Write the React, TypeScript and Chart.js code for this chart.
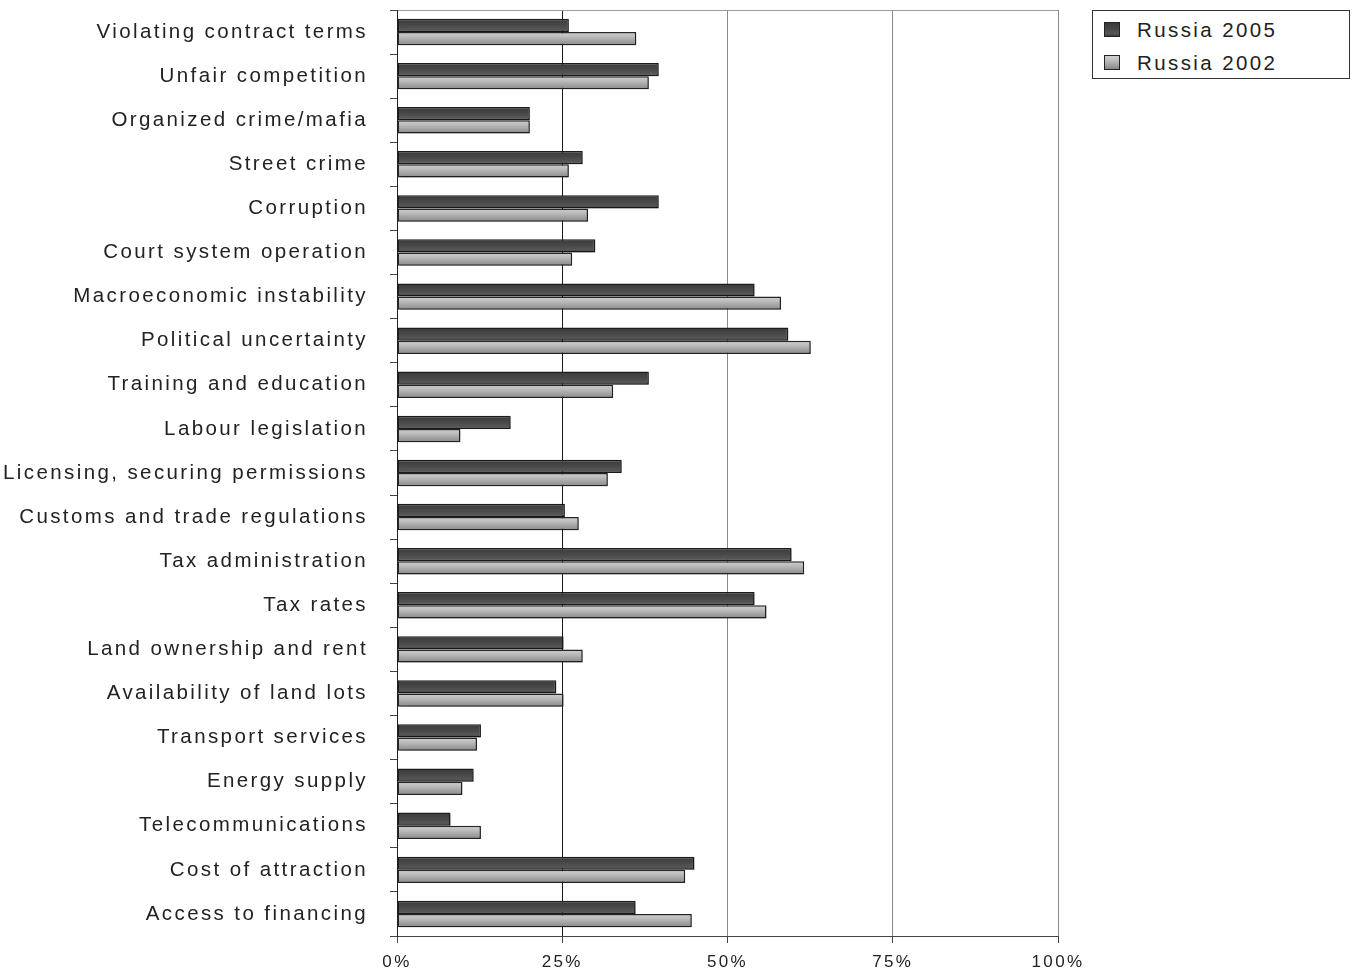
import React, { useEffect, useRef } from 'react';
import { Chart, registerables } from 'chart.js';

Chart.register(...registerables);

const categories = [
  'Violating contract terms',
  'Unfair competition',
  'Organized crime/mafia',
  'Street crime',
  'Corruption',
  'Court system operation',
  'Macroeconomic instability',
  'Political uncertainty',
  'Training and education',
  'Labour legislation',
  'Licensing, securing permissions',
  'Customs and trade regulations',
  'Tax administration',
  'Tax rates',
  'Land ownership and rent',
  'Availability of land lots',
  'Transport services',
  'Energy supply',
  'Telecommunications',
  'Cost of attraction',
  'Access to financing',
];

const russia2005 = [26.0, 39.6, 20.1, 28.1, 39.6, 30.0, 54.1, 59.2, 38.1, 17.2, 34.0, 25.4, 59.7, 54.1, 25.2, 24.1, 12.7, 11.6, 8.1, 45.0, 36.1];
const russia2002 = [36.2, 38.1, 20.1, 26.0, 28.9, 26.5, 58.1, 62.6, 32.7, 9.6, 31.9, 27.5, 61.6, 55.9, 28.1, 25.2, 12.1, 9.9, 12.7, 43.6, 44.6];

const seriesNames = ['Russia 2005', 'Russia 2002'];
const xTickValues = [0, 25, 50, 75, 100];

const FONT = '"Liberation Sans", Arial, Helvetica, sans-serif';
const SPACING = '2.4px';
const CAT_PCT = 0.6;

const darkStops: [number, string][] = [[0, '#3a3a3a'], [0.45, '#474747'], [0.8, '#565656'], [1, '#3e3e3e']];
const lightStops: [number, string][] = [[0, '#cfcfcf'], [0.35, '#bcbcbc'], [0.75, '#9c9c9c'], [1, '#888888']];

function makeFill(stops: [number, string][], which: number) {
  return (c: any) => {
    const chart = c.chart;
    const { ctx, chartArea, scales } = chart;
    if (!chartArea || !scales || !scales.y || c.type !== 'data') return stops[1][1];
    const y = scales.y;
    const center = y.getPixelForValue(c.dataIndex);
    const catH = (y.bottom - y.top) / categories.length;
    const thick = (catH * CAT_PCT) / 2;
    const top = which === 0 ? center - thick : center;
    const g = ctx.createLinearGradient(0, top, 0, top + thick);
    stops.forEach(([o, col]) => g.addColorStop(o, col));
    return g;
  };
}

const spacingPlugin = {
  id: 'letterSpacing',
  beforeUpdate(chart: any) {
    chart.ctx.letterSpacing = SPACING;
  },
  beforeDraw(chart: any) {
    chart.ctx.letterSpacing = SPACING;
  },
};

const shadowPlugin = {
  id: 'barShadow',
  beforeDatasetsDraw(chart: any) {
    const ctx = chart.ctx;
    ctx.save();
    ctx.shadowColor = 'rgba(0,0,0,0.22)';
    ctx.shadowBlur = 2;
    ctx.shadowOffsetX = 1.5;
    ctx.shadowOffsetY = 1.5;
  },
  afterDatasetsDraw(chart: any) {
    chart.ctx.restore();
  },
};

function swatchStyle(stops: [number, string][]): React.CSSProperties {
  return {
    display: 'inline-block',
    width: 16,
    height: 15,
    border: '1px solid #222',
    background: `linear-gradient(to bottom, ${stops.map(([o, c]) => `${c} ${o * 100}%`).join(', ')})`,
    marginRight: 17,
    boxSizing: 'border-box',
  };
}

export default function App() {
  const canvasRef = useRef<HTMLCanvasElement | null>(null);

  useEffect(() => {
    const canvas = canvasRef.current;
    if (!canvas) return;
    const chart = new Chart(canvas, {
      type: 'bar',
      data: {
        labels: categories,
        datasets: [
          {
            label: seriesNames[0],
            data: russia2005,
            backgroundColor: makeFill(darkStops, 0) as any,
            borderColor: '#1c1c1c',
            borderWidth: 1.5,
            borderSkipped: false,
            categoryPercentage: CAT_PCT,
            barPercentage: 1,
          },
          {
            label: seriesNames[1],
            data: russia2002,
            backgroundColor: makeFill(lightStops, 1) as any,
            borderColor: '#262626',
            borderWidth: 1.5,
            borderSkipped: false,
            categoryPercentage: CAT_PCT,
            barPercentage: 1,
          },
        ],
      },
      options: {
        indexAxis: 'y',
        responsive: false,
        animation: false,
        layout: { padding: { top: 10, right: 296, bottom: 0, left: 0 } },
        plugins: {
          legend: { display: false },
          tooltip: { enabled: false },
        },
        scales: {
          x: {
            type: 'linear',
            min: 0,
            max: 100,
            afterBuildTicks: (scale: any) => {
              scale.ticks = xTickValues.map((v) => ({ value: v }));
            },
            afterFit: (scale: any) => {
              scale.height = 36;
              scale.paddingLeft = 0;
              scale.paddingRight = 0;
            },
            ticks: {
              callback: (v: any) => `${v}%`,
              font: { family: FONT, size: 17 },
              color: '#222',
              padding: 9,
              maxRotation: 0,
            },
            grid: {
              color: (c: any) => {
                const v = c.tick ? c.tick.value : null;
                if (v === 25) return '#1a1a1a';
                if (v === 0) return '#333';
                return '#8a8a8a';
              },
              lineWidth: 1,
              tickColor: '#444',
              tickLength: 7,
            },
            border: { color: '#444', width: 1 },
          },
          y: {
            type: 'category',
            afterFit: (scale: any) => {
              scale.width = 397;
              scale.paddingTop = 0;
              scale.paddingBottom = 0;
            },
            ticks: {
              font: { family: FONT, size: 20.5 },
              color: '#222',
              padding: 22,
              autoSkip: false,
            },
            grid: {
              offset: true,
              color: (c: any) => (c.index === 0 ? '#9a9a9a' : 'rgba(0,0,0,0)'),
              lineWidth: 1,
              tickColor: '#444',
              tickLength: 7,
            },
            border: { color: '#222', width: 1 },
          },
        },
      } as any,
      plugins: [spacingPlugin, shadowPlugin],
    });
    return () => chart.destroy();
  }, []);

  return (
    <div style={{ position: 'absolute', left: 0, top: 0, width: 1354, height: 972, background: '#fff', overflow: 'hidden' }}>
      <canvas ref={canvasRef} width={1354} height={972} style={{ display: 'block', width: 1354, height: 972 }} />
      <div
        style={{
          position: 'absolute',
          left: 1092,
          top: 10,
          width: 258,
          height: 69,
          border: '1px solid #333',
          boxSizing: 'border-box',
          background: '#fff',
          fontFamily: FONT,
          fontSize: 20.5,
          letterSpacing: SPACING,
          color: '#222',
          paddingLeft: 11,
          paddingTop: 2,
        }}
      >
        <div style={{ display: 'flex', alignItems: 'center', height: 33 }}>
          <span style={swatchStyle(darkStops)} />
          <span>{seriesNames[0]}</span>
        </div>
        <div style={{ display: 'flex', alignItems: 'center', height: 33 }}>
          <span style={swatchStyle(lightStops)} />
          <span>{seriesNames[1]}</span>
        </div>
      </div>
    </div>
  );
}
